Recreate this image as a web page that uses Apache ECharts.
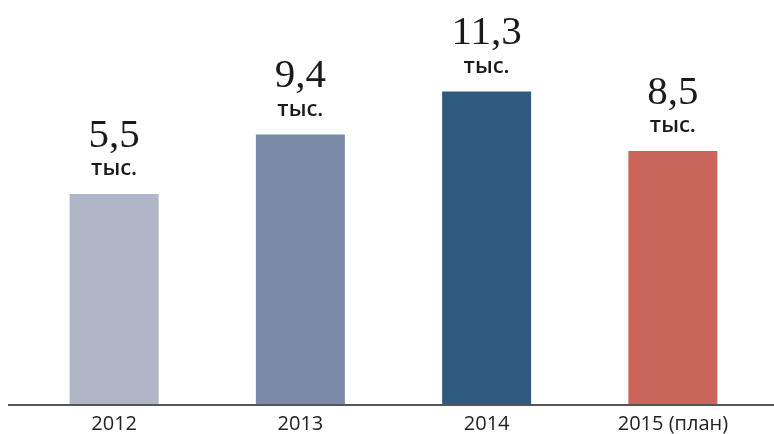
<!DOCTYPE html>
<html>
<head>
<meta charset="utf-8">
<script src="https://cdn.jsdelivr.net/npm/echarts@6/dist/echarts.min.js"></script>
<style>
  html, body { margin: 0; padding: 0; background: #fff; }
  #main { width: 774px; height: 434px; }
</style>
</head>
<body>
<div id="main"></div>
<script>
var years = ["2012", "2013", "2014", "2015 (план)"];
// значения, подписанные над столбцами
var valueLabels = ["5,5", "9,4", "11,3", "8,5"];
// высоты столбцов так, как они нарисованы на картинке
var barHeights = [7.6, 9.75, 11.3, 9.15];
var barColors = ["#b1b5c8", "#7b8aa6", "#2e5b7f", "#c9655a"];
var unitText = "тыс.";

var chart = echarts.init(document.getElementById("main"));
chart.setOption({
  animation: false,
  grid: { left: 21, right: 8, top: 72, bottom: 29 },
  xAxis: {
    type: "category",
    data: years,
    axisLine: { show: false },
    axisTick: { show: false },
    axisLabel: {
      color: "#222",
      fontFamily: "Open Sans",
      fontSize: 20,
      margin: 9
    }
  },
  yAxis: {
    type: "value",
    min: 0,
    max: 12,
    show: false,
    splitLine: { show: false }
  },
  graphic: [
    {
      type: "line",
      shape: { x1: 8, y1: 405, x2: 774, y2: 405 },
      style: { stroke: "#555", lineWidth: 2 },
      z: 10
    }
  ],
  series: [
    {
      type: "bar",
      barWidth: 89,
      data: barHeights.map(function (h, i) {
        return { value: h, itemStyle: { color: barColors[i] } };
      }),
      label: {
        show: true,
        position: "top",
        distance: 12,
        formatter: function (p) {
          return "{num|" + valueLabels[p.dataIndex] + "}\n{unit|" + unitText + "}";
        },
        rich: {
          num: {
            fontFamily: "Liberation Serif",
            fontSize: 41,
            color: "#1a1a1a",
            lineHeight: 40
          },
          unit: {
            fontFamily: "Open Sans",
            fontWeight: 600,
            fontSize: 22,
            color: "#1a1a1a",
            lineHeight: 26
          }
        }
      }
    }
  ]
});
</script>
</body>
</html>
